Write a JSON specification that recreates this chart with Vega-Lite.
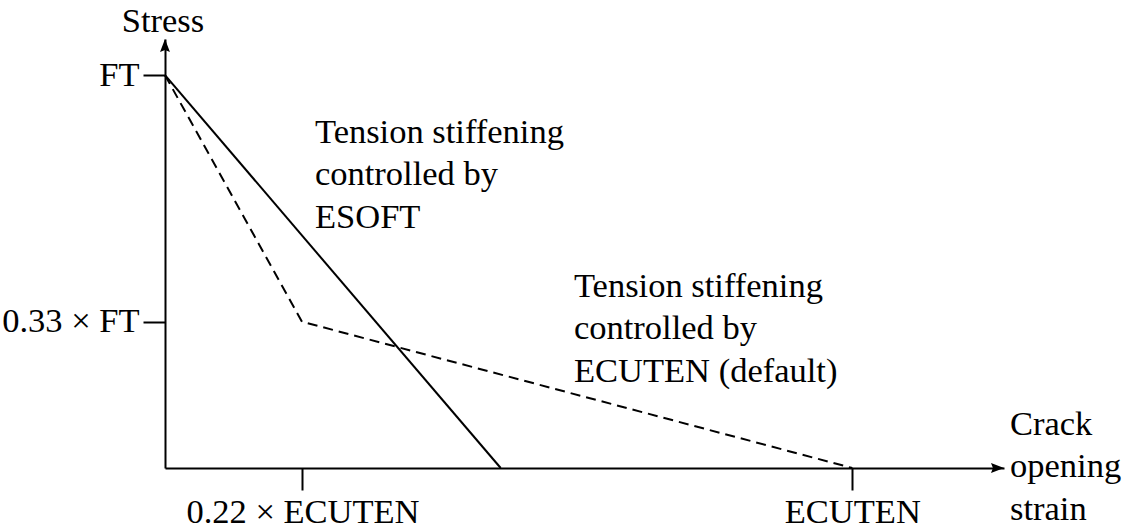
{
  "$schema": "https://vega.github.io/schema/vega-lite/v6.json",
  "width": 839,
  "height": 429,
  "autosize": {"type": "none"},
  "padding": {"left": 165, "top": 39, "right": 125, "bottom": 59},
  "background": "white",
  "config": {"view": {"stroke": null}, "font": "Liberation Serif"},
  "datasets": {
    "curves": [
      {"model": "ESOFT", "order": 0, "strain": 0, "stress": 1},
      {"model": "ESOFT", "order": 1, "strain": 0.4884, "stress": 0},
      {"model": "ECUTEN", "order": 0, "strain": 0, "stress": 1},
      {"model": "ECUTEN", "order": 1, "strain": 0.1993, "stress": 0.3725},
      {"model": "ECUTEN", "order": 2, "strain": 1, "stress": 0}
    ],
    "notes": [
      {"label": "Tension stiffening\ncontrolled by\nESOFT", "strain": 0.2182, "stress": 0.828},
      {"label": "Tension stiffening\ncontrolled by\nECUTEN (default)", "strain": 0.595, "stress": 0.436},
      {"label": "Crack\nopening\nstrain", "strain": 1.2294, "stress": 0.085}
    ],
    "arrows": [
      {"axis": "y", "strain": 0, "stress": 1.092},
      {"axis": "x", "strain": 1.2207, "stress": 0}
    ]
  },
  "layer": [
    {
      "data": {"name": "curves"},
      "transform": [{"filter": "datum.model == 'ESOFT'"}],
      "mark": {"type": "line", "color": "black", "strokeWidth": 2, "clip": false},
      "encoding": {
        "x": {
          "field": "strain", "type": "quantitative",
          "scale": {"domain": [0, 1.2207], "nice": false, "zero": false},
          "axis": {
            "values": [0.2, 1],
            "labelExpr": "datum.value == 1 ? 'ECUTEN' : '0.22 × ECUTEN'",
            "title": null, "grid": false,
            "domainColor": "black", "domainWidth": 2,
            "tickColor": "black", "tickWidth": 2, "tickSize": 22,
            "labelFont": "Liberation Serif", "labelFontSize": 34.5, "labelColor": "black", "labelLimit": 0,
            "labelBaseline": "alphabetic", "labelPadding": 32, "labelFlush": false, "labelOverlap": false
          }
        },
        "y": {
          "field": "stress", "type": "quantitative",
          "scale": {"domain": [0, 1.092], "nice": false, "zero": false},
          "axis": {
            "values": [0.372, 1],
            "labelExpr": "datum.value == 1 ? 'FT' : '0.33 × FT'",
            "title": null, "grid": false,
            "domainColor": "black", "domainWidth": 2,
            "tickColor": "black", "tickWidth": 2, "tickSize": 22,
            "labelFont": "Liberation Serif", "labelFontSize": 34.5, "labelColor": "black", "labelLimit": 0,
            "labelBaseline": "middle", "labelPadding": 4, "labelFlush": false, "labelOverlap": false
          }
        },
        "order": {"field": "order"}
      }
    },
    {
      "data": {"name": "curves"},
      "transform": [{"filter": "datum.model == 'ECUTEN'"}],
      "mark": {"type": "line", "color": "black", "strokeWidth": 2, "strokeDash": [10, 6], "clip": false},
      "encoding": {
        "x": {"field": "strain", "type": "quantitative"},
        "y": {"field": "stress", "type": "quantitative"},
        "order": {"field": "order"}
      }
    },
    {
      "data": {"name": "arrows"},
      "transform": [{"filter": "datum.axis == 'y'"}],
      "mark": {"type": "point", "shape": "M0,0L-0.38,1L0,0.85L0.38,1Z", "size": 676, "filled": true, "color": "black", "opacity": 1, "clip": false},
      "encoding": {
        "x": {"field": "strain", "type": "quantitative"},
        "y": {"field": "stress", "type": "quantitative"}
      }
    },
    {
      "data": {"name": "arrows"},
      "transform": [{"filter": "datum.axis == 'x'"}],
      "mark": {"type": "point", "shape": "M0,0L-1,-0.38L-0.85,0L-1,0.38Z", "size": 676, "filled": true, "color": "black", "opacity": 1, "clip": false},
      "encoding": {
        "x": {"field": "strain", "type": "quantitative"},
        "y": {"field": "stress", "type": "quantitative"}
      }
    },
    {
      "data": {"name": "notes"},
      "mark": {"type": "text", "align": "left", "baseline": "alphabetic", "font": "Liberation Serif", "fontSize": 34.5, "lineHeight": 42.5, "lineBreak": "\n", "color": "black", "clip": false},
      "encoding": {
        "x": {"field": "strain", "type": "quantitative"},
        "y": {"field": "stress", "type": "quantitative"},
        "text": {"field": "label"}
      }
    },
    {
      "data": {"values": [{"label": "Stress", "strain": -0.003, "stress": 1.111}]},
      "mark": {"type": "text", "align": "center", "baseline": "alphabetic", "font": "Liberation Serif", "fontSize": 34.5, "color": "black", "clip": false},
      "encoding": {
        "x": {"field": "strain", "type": "quantitative"},
        "y": {"field": "stress", "type": "quantitative"},
        "text": {"field": "label"}
      }
    }
  ]
}
